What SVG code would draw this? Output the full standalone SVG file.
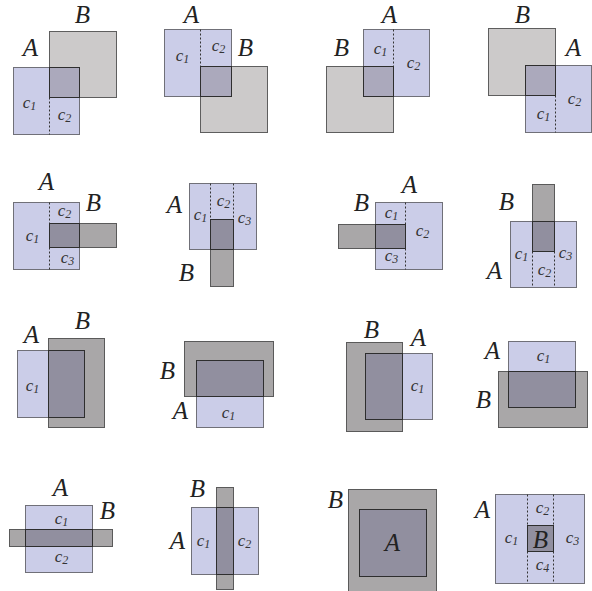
<svg xmlns="http://www.w3.org/2000/svg" width="592" height="591" viewBox="0 0 592 591">
<style>
.a{fill:#cbcde8;stroke:#707078;stroke-width:1}
.b1{fill:#cccaca;stroke:#5e5e5e;stroke-width:1}
.o1{fill:#aba9bc;stroke:#2e2e2e;stroke-width:1}
.b{fill:#a9a7a8;stroke:#5a5a5a;stroke-width:1}
.o{fill:#918f9f;stroke:#2e2e2e;stroke-width:1}
.d{stroke:#333;stroke-width:1;stroke-dasharray:2 2;fill:none}
.L{font-size:25px;fill:#222;text-anchor:middle}
.c{font-size:17px;fill:#333;text-anchor:middle}
.s{font-size:12px}
</style>
<rect width="592" height="591" fill="#fff"/>
<g transform="translate(0.5,0.5)" font-family="Liberation Serif, Times New Roman, serif" font-style="italic">
<g id="cell1">
<rect class="a" x="13" y="67" width="66" height="67"/>
<rect class="b1" x="49" y="31" width="67" height="66"/>
<rect class="o1" x="49" y="67" width="30" height="30"/>
<line class="d" x1="49" y1="97" x2="49" y2="134"/>
<text class="L" x="82" y="22">B</text><text class="L" x="30" y="55">A</text>
<text class="c" x="29" y="107">c<tspan class="s" dy="2">1</tspan></text>
<text class="c" x="64" y="119">c<tspan class="s" dy="2">2</tspan></text>
</g>
<g id="cell2">
<rect class="a" x="164" y="29" width="67" height="67"/>
<rect class="b1" x="200" y="66" width="67" height="66"/>
<rect class="o1" x="200" y="66" width="31" height="30"/>
<line class="d" x1="200" y1="29" x2="200" y2="66"/>
<text class="L" x="191" y="22">A</text><text class="L" x="245" y="55">B</text>
<text class="c" x="182" y="60">c<tspan class="s" dy="2">1</tspan></text>
<text class="c" x="218" y="50">c<tspan class="s" dy="2">2</tspan></text>
</g>
<g id="cell3">
<rect class="a" x="363" y="29" width="66" height="67"/>
<rect class="b1" x="326" y="66" width="67" height="66"/>
<rect class="o1" x="363" y="66" width="30" height="30"/>
<line class="d" x1="393" y1="29" x2="393" y2="66"/>
<text class="L" x="389" y="22">A</text><text class="L" x="341" y="55">B</text>
<text class="c" x="380" y="53">c<tspan class="s" dy="2">1</tspan></text>
<text class="c" x="413" y="67">c<tspan class="s" dy="2">2</tspan></text>
</g>
<g id="cell4">
<rect class="b1" x="488" y="28" width="67" height="67"/>
<rect class="a" x="525" y="65" width="66" height="67"/>
<rect class="o1" x="525" y="65" width="30" height="30"/>
<line class="d" x1="555" y1="95" x2="555" y2="132"/>
<text class="L" x="522" y="22">B</text><text class="L" x="573" y="55">A</text>
<text class="c" x="543" y="118">c<tspan class="s" dy="2">1</tspan></text>
<text class="c" x="574" y="103">c<tspan class="s" dy="2">2</tspan></text>
</g>
<g id="cell5">
<rect class="a" x="13" y="202" width="66" height="67"/>
<rect class="b" x="49" y="223" width="67" height="24"/>
<rect class="o" x="49" y="223" width="30" height="24"/>
<line class="d" x1="49" y1="202" x2="49" y2="223"/>
<line class="d" x1="49" y1="247" x2="49" y2="269"/>
<text class="L" x="46" y="189">A</text><text class="L" x="93" y="210">B</text>
<text class="c" x="32" y="240">c<tspan class="s" dy="2">1</tspan></text>
<text class="c" x="64" y="215">c<tspan class="s" dy="2">2</tspan></text>
<text class="c" x="67" y="262">c<tspan class="s" dy="2">3</tspan></text>
</g>
<g id="cell6">
<rect class="a" x="189" y="183" width="67" height="66"/>
<rect class="b" x="210" y="219" width="23" height="67"/>
<rect class="o" x="210" y="219" width="23" height="30"/>
<line class="d" x1="210" y1="183" x2="210" y2="219"/>
<line class="d" x1="233" y1="183" x2="233" y2="219"/>
<text class="L" x="174" y="212">A</text><text class="L" x="186" y="280">B</text>
<text class="c" x="200" y="219">c<tspan class="s" dy="2">1</tspan></text>
<text class="c" x="223" y="205">c<tspan class="s" dy="2">2</tspan></text>
<text class="c" x="244" y="222">c<tspan class="s" dy="2">3</tspan></text>
</g>
<g id="cell7">
<rect class="a" x="375" y="202" width="67" height="67"/>
<rect class="b" x="338" y="224" width="67" height="24"/>
<rect class="o" x="375" y="224" width="30" height="24"/>
<line class="d" x1="405" y1="202" x2="405" y2="224"/>
<line class="d" x1="405" y1="248" x2="405" y2="269"/>
<text class="L" x="409" y="192">A</text><text class="L" x="361" y="210">B</text>
<text class="c" x="391" y="217">c<tspan class="s" dy="2">1</tspan></text>
<text class="c" x="422" y="235">c<tspan class="s" dy="2">2</tspan></text>
<text class="c" x="391" y="260">c<tspan class="s" dy="2">3</tspan></text>
</g>
<g id="cell8">
<rect class="b" x="532" y="184" width="22" height="67"/>
<rect class="a" x="510" y="221" width="66" height="66"/>
<rect class="o" x="532" y="221" width="22" height="30"/>
<line class="d" x1="532" y1="251" x2="532" y2="287"/>
<line class="d" x1="554" y1="251" x2="554" y2="287"/>
<text class="L" x="506" y="209">B</text><text class="L" x="494" y="278">A</text>
<text class="c" x="521" y="258">c<tspan class="s" dy="2">1</tspan></text>
<text class="c" x="544" y="274">c<tspan class="s" dy="2">2</tspan></text>
<text class="c" x="565" y="257">c<tspan class="s" dy="2">3</tspan></text>
</g>
<g id="cell9">
<rect class="a" x="17" y="350" width="67" height="67"/>
<rect class="b" x="48" y="338" width="56" height="89"/>
<rect class="o" x="48" y="350" width="36" height="67"/>
<text class="L" x="31" y="342">A</text><text class="L" x="82" y="328">B</text>
<text class="c" x="32" y="390">c<tspan class="s" dy="2">1</tspan></text>
</g>
<g id="cell10">
<rect class="b" x="184" y="341" width="89" height="55"/>
<rect class="a" x="196" y="360" width="67" height="67"/>
<rect class="o" x="196" y="360" width="67" height="36"/>
<text class="L" x="167" y="378">B</text><text class="L" x="180" y="418">A</text>
<text class="c" x="228" y="417">c<tspan class="s" dy="2">1</tspan></text>
</g>
<g id="cell11">
<rect class="b" x="346" y="342" width="56" height="89"/>
<rect class="a" x="365" y="353" width="67" height="66"/>
<rect class="o" x="365" y="353" width="37" height="66"/>
<text class="L" x="371" y="337">B</text><text class="L" x="418" y="345">A</text>
<text class="c" x="417" y="390">c<tspan class="s" dy="2">1</tspan></text>
</g>
<g id="cell12">
<rect class="a" x="508" y="341" width="67" height="66"/>
<rect class="b" x="498" y="371" width="89" height="56"/>
<rect class="o" x="508" y="371" width="67" height="36"/>
<text class="L" x="492" y="358">A</text><text class="L" x="483" y="407">B</text>
<text class="c" x="543" y="360">c<tspan class="s" dy="2">1</tspan></text>
</g>
<g id="cell13">
<rect class="a" x="25" y="505" width="67" height="67"/>
<rect class="b" x="9" y="529" width="103" height="17"/>
<rect class="o" x="25" y="529" width="67" height="17"/>
<text class="L" x="60" y="495">A</text><text class="L" x="107" y="518">B</text>
<text class="c" x="61" y="523">c<tspan class="s" dy="2">1</tspan></text>
<text class="c" x="61" y="561">c<tspan class="s" dy="2">2</tspan></text>
</g>
<g id="cell14">
<rect class="a" x="191" y="507" width="67" height="67"/>
<rect class="b" x="216" y="487" width="17" height="102"/>
<rect class="o" x="216" y="507" width="17" height="67"/>
<text class="L" x="197" y="496">B</text><text class="L" x="177" y="548">A</text>
<text class="c" x="203" y="545">c<tspan class="s" dy="2">1</tspan></text>
<text class="c" x="244" y="545">c<tspan class="s" dy="2">2</tspan></text>
</g>
<g id="cell15">
<rect class="b" x="348" y="489" width="88" height="106"/>
<rect class="o" x="359" y="509" width="67" height="67"/>
<text class="L" x="335" y="507">B</text><text class="L" x="392" y="550">A</text>
</g>
<g id="cell16">
<rect class="a" x="495" y="494" width="89" height="89"/>
<rect class="o" x="527" y="525" width="26" height="26"/>
<line class="d" x1="527" y1="494" x2="527" y2="525"/>
<line class="d" x1="553" y1="494" x2="553" y2="525"/>
<line class="d" x1="527" y1="551" x2="527" y2="583"/>
<line class="d" x1="553" y1="551" x2="553" y2="583"/>
<text class="L" x="482" y="517">A</text><text class="L" x="540" y="547">B</text>
<text class="c" x="511" y="542">c<tspan class="s" dy="2">1</tspan></text>
<text class="c" x="542" y="512">c<tspan class="s" dy="2">2</tspan></text>
<text class="c" x="572" y="542">c<tspan class="s" dy="2">3</tspan></text>
<text class="c" x="542" y="569">c<tspan class="s" dy="2">4</tspan></text>
</g>
</g>
</svg>
